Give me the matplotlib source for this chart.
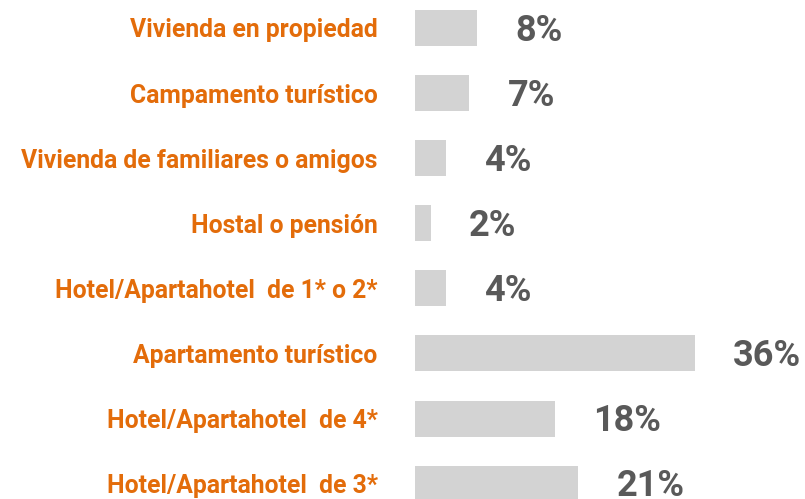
import matplotlib
matplotlib.use('Agg')
import matplotlib.pyplot as plt

plt.rcParams['font.family'] = ['Roboto', 'DejaVu Sans']

# tipos de alojamiento (de arriba a abajo)
categorias = ['Vivienda en propiedad',
              'Campamento turístico',
              'Vivienda de familiares o amigos',
              'Hostal o pensión',
              'Hotel/Apartahotel  de 1* o 2*',
              'Apartamento turístico',
              'Hotel/Apartahotel  de 4*',
              'Hotel/Apartahotel  de 3*']
porcentajes = [8, 7, 4, 2, 4, 36, 18, 21]
etiquetas = ['8%', '7%', '4%', '2%', '4%', '36%', '18%', '21%']

naranja = '#E36C0A'
gris_barra = '#D3D3D3'
gris_texto = '#595959'

W, H = 805, 499
fig = plt.figure(figsize=(W / 100, H / 100), dpi=100)
# axes start where the bars start (x=415px)
ax = fig.add_axes([415 / W, 0, 390 / W, 1])

px_per_unit = 280 / 36
pitch = 65.1
ax.set_xlim(0, 390 / px_per_unit)
ax.set_ylim((H - 28) / pitch, -28 / pitch)

pos = list(range(len(categorias)))
ax.barh(pos, porcentajes, height=36 / pitch, color=gris_barra)

for i, v in enumerate(porcentajes):
    ax.annotate(etiquetas[i], xy=(v, i), xytext=(27.5, -2), textcoords='offset points',
                ha='left', va='center', fontsize=26, fontweight='bold', color=gris_texto)

ax.set_yticks(pos, categorias)
ax.tick_params(axis='y', length=0, pad=27)
for lab in ax.get_yticklabels():
    lab.set_color(naranja)
    lab.set_fontweight('bold')
    lab.set_fontsize(17.8)

ax.set_xticks([])
for s in ax.spines.values():
    s.set_visible(False)

plt.savefig('out.png', dpi=100)
